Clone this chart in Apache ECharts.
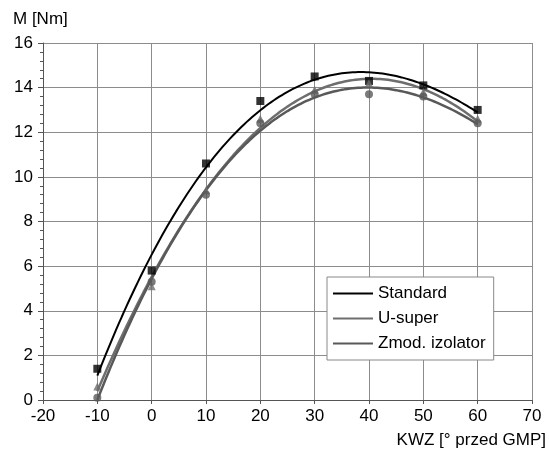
<!DOCTYPE html>
<html>
<head>
<meta charset="utf-8">
<script src="https://cdn.jsdelivr.net/npm/echarts@6/dist/echarts.min.js"></script>
<style>
  html, body { margin: 0; padding: 0; background: #fff; }
  #chart { width: 549px; height: 461px; }
</style>
</head>
<body>
<div id="chart"></div>
<script>
const kwz = [-10, 0, 10, 20, 30, 40, 50, 60]
const standard = [1.4, 5.8, 10.6, 13.4, 14.5, 14.3, 14.1, 13.0]
const uSuper = [0.6, 5.1, 9.4, 12.6, 13.9, 14.2, 13.8, 12.6]
const zmodIzolator = [0.1, 5.3, 9.2, 12.4, 13.7, 13.7, 13.6, 12.4]
const seriesNames = ['Standard', 'U-super', 'Zmod. izolator']

// least squares polynomial trend (like the spreadsheet trendline)
const polyFit = (xs, ys, order) => {
  const n = order + 1
  const A = []
  for (let i = 0; i < n; i++) {
    A.push(new Array(n + 1).fill(0))
  }
  xs.forEach((x, k) => {
    for (let i = 0; i < n; i++) {
      for (let j = 0; j < n; j++) A[i][j] += Math.pow(x, i + j)
      A[i][n] += ys[k] * Math.pow(x, i)
    }
  })
  for (let c = 0; c < n; c++) {
    let p = c
    for (let r = c + 1; r < n; r++) if (Math.abs(A[r][c]) > Math.abs(A[p][c])) p = r
    ;[A[c], A[p]] = [A[p], A[c]]
    for (let r = 0; r < n; r++) {
      if (r === c) continue
      const f = A[r][c] / A[c][c]
      for (let k = c; k <= n; k++) A[r][k] -= f * A[c][k]
    }
  }
  return A.map((row, i) => row[n] / row[i])
}
const trend = (ys) => {
  const coef = polyFit(kwz, ys, 3)
  const pts = []
  for (let x = kwz[0]; x <= kwz[kwz.length - 1] + 1e-9; x += 0.5) {
    pts.push([x, coef.reduce((s, c, i) => s + c * Math.pow(x, i), 0)])
  }
  return pts
}
const pairs = (ys) => kwz.map((x, i) => [x, ys[i]])

const colors = ['#000000', '#6e6e6e', '#595959']
const allData = [standard, uSuper, zmodIzolator]
const symbols = ['rect', 'triangle', 'circle']

const mychart = echarts.init(document.getElementById('chart'))
const series = []
allData.forEach((ys, i) => {
  series.push({
    name: seriesNames[i],
    type: 'line',
    data: trend(ys),
    showSymbol: false,
    symbol: 'none',
    smooth: false,
    lineStyle: { color: colors[i], width: i === 0 ? 2 : 2.5 },
    itemStyle: { color: colors[i] },
    z: 3
  })
})
allData.forEach((ys, i) => {
  series.push({
    type: 'scatter',
    data: pairs(ys),
    symbol: symbols[i],
    symbolSize: 8,
    itemStyle: { color: colors[i] },
    z: 4
  })
})

mychart.setOption({
  animation: false,
  textStyle: { fontFamily: 'Liberation Sans, Arial, sans-serif' },
  grid: { left: 43, right: 15, top: 43, bottom: 61 },
  legend: {
    data: seriesNames,
    orient: 'vertical',
    left: 327,
    top: 277,
    padding: [8, 8, 8, 6],
    backgroundColor: '#fff',
    borderColor: '#888',
    borderWidth: 1,
    icon: 'rect',
    itemWidth: 40,
    itemHeight: 2,
    itemGap: 8,
    textStyle: { fontSize: 17, color: '#000' }
  },
  xAxis: {
    type: 'value',
    min: -20,
    max: 70,
    interval: 10,
    name: 'KWZ [° przed GMP]',
    nameLocation: 'end',
    nameGap: 0,
    nameTextStyle: { fontSize: 17, color: '#000', align: 'right', verticalAlign: 'top', padding: [32, -14, 0, 0] },
    axisLine: { onZero: false, lineStyle: { color: '#555', width: 1 } },
    axisTick: { show: true, length: 4, lineStyle: { color: '#555' } },
    axisLabel: { fontSize: 17, color: '#000', margin: 8 },
    splitLine: { show: true, lineStyle: { color: '#8c8c8c', width: 1 } }
  },
  yAxis: {
    type: 'value',
    min: 0,
    max: 16,
    interval: 2,
    name: 'M [Nm]',
    nameLocation: 'end',
    nameGap: 15,
    nameTextStyle: { fontSize: 17, color: '#000', align: 'left', padding: [0, 0, 0, -30] },
    axisLine: { show: true, onZero: false, lineStyle: { color: '#555', width: 1 } },
    axisTick: { show: true, length: 5, lineStyle: { color: '#555' } },
    minorTick: { show: true, splitNumber: 5, length: 3, lineStyle: { color: '#555' } },
    axisLabel: { fontSize: 17, color: '#000', margin: 10 },
    splitLine: { show: true, lineStyle: { color: '#8c8c8c', width: 1 } }
  },
  series
})
</script>
</body>
</html>
